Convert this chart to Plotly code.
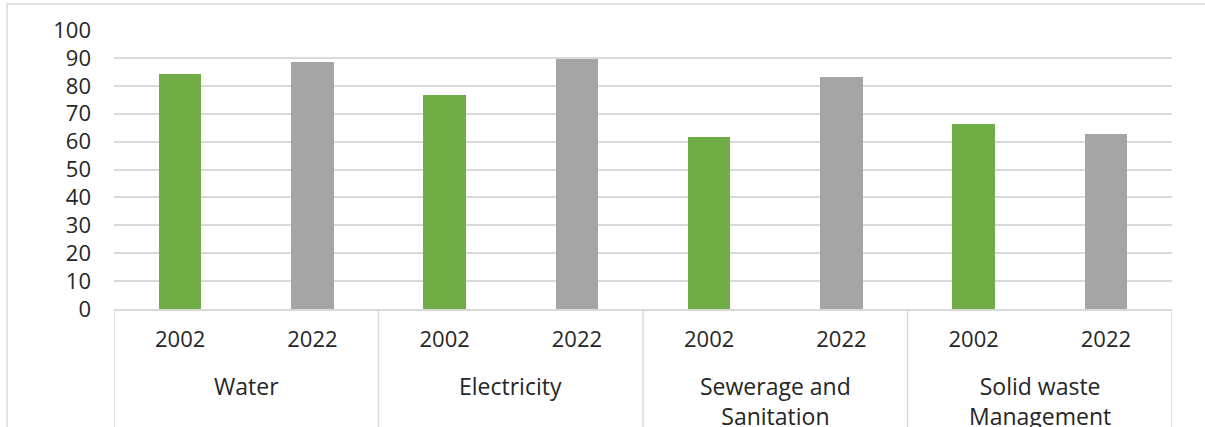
import plotly.graph_objects as go

# Service categories and survey years
categories = ["Water", "Electricity", "Sewerage and<br>Sanitation", "Solid waste<br>Management"]
years = ["2002", "2022"]

# Share of households served (%) per category
values_2002 = [84.2, 76.7, 61.6, 66.3]
values_2022 = [88.5, 89.6, 83.1, 62.7]

y_ticks = [0, 10, 20, 30, 40, 50, 60, 70, 80, 90, 100]

FONT = "Open Sans"
TEXT = "#262626"
LINE = "#d9d9d9"

n_years = len(years)
x_2002 = [i * n_years + 0 for i in range(len(categories))]
x_2022 = [i * n_years + 1 for i in range(len(categories))]

fig = go.Figure()
fig.add_trace(go.Bar(x=x_2002, y=values_2002, marker_color="#70ad47",
                     marker_line_width=0, width=0.32, name="2002"))
fig.add_trace(go.Bar(x=x_2022, y=values_2022, marker_color="#a5a5a5",
                     marker_line_width=0, width=0.32, name="2022"))

tick_pos = sorted(x_2002 + x_2022)
tick_txt = [years[p % n_years] for p in tick_pos]

# Group dividers below the axis
shapes = []
for k in range(len(categories) + 1):
    xv = k * n_years - 0.5
    shapes.append(dict(type="line", xref="x", yref="paper", x0=xv, x1=xv,
                       y0=0, y1=-0.6, line=dict(color=LINE, width=1.5)))

# Outer chart frame
W, H = 1205, 427
L, R, T, B = 114, 33, 30, 118
pw, ph = W - L - R, H - T - B
shapes.append(dict(type="rect", xref="paper", yref="paper",
                   x0=(7 - L) / pw, x1=(W + 5 - L) / pw,
                   y0=-(H + 5 - T - ph) / ph, y1=(ph + T - 4) / ph,
                   line=dict(color=LINE, width=1.5), fillcolor="rgba(0,0,0,0)",
                   layer="below"))

annotations = []
for i, name in enumerate(categories):
    annotations.append(dict(x=i * n_years + 0.5, xref="x", y=0, yref="paper",
                            yanchor="top", yshift=-59, text=name, showarrow=False,
                            font=dict(family=FONT, size=23, color=TEXT),
                            align="center"))

fig.update_layout(
    width=W, height=H,
    margin=dict(l=L, r=R, t=T, b=B),
    paper_bgcolor="white", plot_bgcolor="white",
    showlegend=False, bargap=0,
    font=dict(family=FONT, size=22, color=TEXT),
    shapes=shapes, annotations=annotations,
    xaxis=dict(range=[-0.5, len(categories) * n_years - 0.5],
               tickvals=tick_pos, ticktext=tick_txt, showgrid=False,
               zeroline=False, showline=True, linecolor=LINE, linewidth=1.5,
               ticks="", ticklabelstandoff=10,
               tickfont=dict(family=FONT, size=22, color=TEXT)),
    yaxis=dict(range=[0, 100], tickvals=y_ticks, showgrid=True,
               gridcolor=LINE, gridwidth=1.5, zeroline=False, showline=False,
               ticks="", ticklabelstandoff=22,
               tickfont=dict(family=FONT, size=22, color=TEXT)),
)

fig.write_html("out.html")
